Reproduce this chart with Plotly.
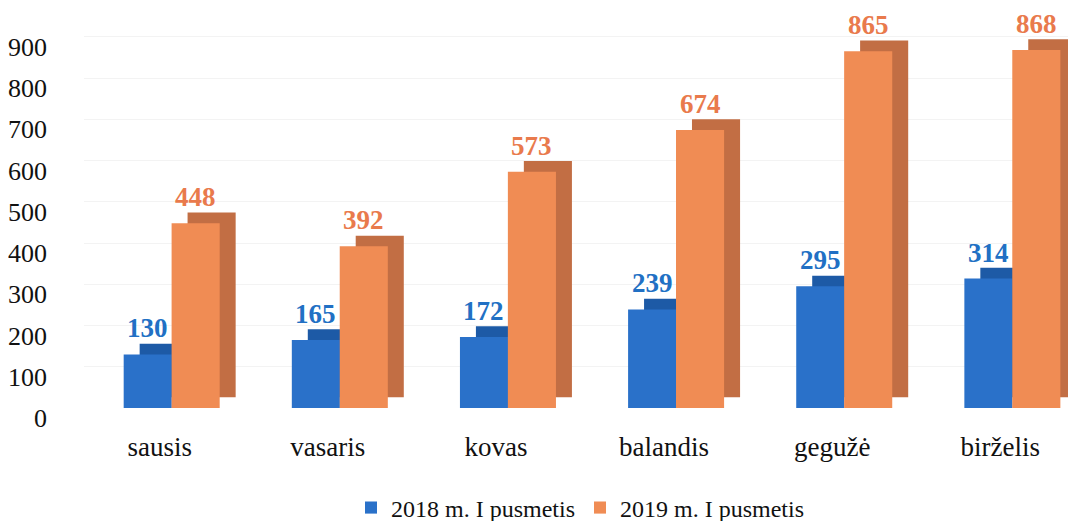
import plotly.graph_objects as go

months = ["sausis", "vasaris", "kovas", "balandis", "gegužė", "birželis"]
h1_2018 = [130, 165, 172, 239, 295, 314]
h1_2019 = [448, 392, 573, 674, 865, 868]
series_names = ["2018 m. I pusmetis", "2019 m. I pusmetis"]
y_ticks = [0, 100, 200, 300, 400, 500, 600, 700, 800, 900]

BLUE = "#2a71c9"
BLUE_DARK = "#1d5aa6"
ORANGE = "#f08c54"
ORANGE_DARK = "#c26e44"
BLUE_TXT = "#2170c4"
ORANGE_TXT = "#e97a4c"
SERIF = "Liberation Serif, Times New Roman, serif"

# fake 3D depth: a darker box drawn behind each front face, shifted up/right
DEPTH_Y = 26
DEPTH_X = 0.095
BAR_W = 0.286
OFF_BLUE = -0.214
OFF_ORANGE = 0.071

fig = go.Figure()

for vals, col, off in [(h1_2018, BLUE_DARK, OFF_BLUE), (h1_2019, ORANGE_DARK, OFF_ORANGE)]:
    fig.add_trace(go.Bar(
        x=months, y=vals, base=DEPTH_Y, width=BAR_W, offset=off + DEPTH_X,
        marker=dict(color=col, line=dict(width=0)), showlegend=False, hoverinfo="skip",
    ))

for vals, col, off, name in [(h1_2018, BLUE, OFF_BLUE, series_names[0]),
                             (h1_2019, ORANGE, OFF_ORANGE, series_names[1])]:
    fig.add_trace(go.Bar(
        x=months, y=vals, width=BAR_W, offset=off, name=name,
        marker=dict(color=col, line=dict(width=0)),
    ))

for vals, col, shift in [(h1_2018, BLUE_TXT, -12), (h1_2019, ORANGE_TXT, 36)]:
    for m, v in zip(months, vals):
        fig.add_annotation(
            x=m, y=v, text=str(v), showarrow=False, yanchor="bottom",
            xshift=shift, yshift=9,
            font=dict(family=SERIF, size=27, color=col, weight="bold"),
        )

# page body keeps its default 8px margin, so the figure is 8px smaller
fig.update_layout(
    width=1068, height=513,
    margin=dict(l=76, r=0, t=0, b=113, autoexpand=False),
    barmode="overlay",
    plot_bgcolor="white", paper_bgcolor="white",
    font=dict(family=SERIF, color="#111111"),
    legend=dict(
        orientation="h", x=0.5, xanchor="center", y=-0.25, yanchor="middle",
        font=dict(family=SERIF, size=24, color="#111111"),
        itemwidth=30, tracegroupgap=0,
    ),
)
fig.update_xaxes(
    range=[-0.45, 5.45], showgrid=False, showline=False, zeroline=False,
    ticks="", tickfont=dict(family=SERIF, size=27, color="#111111"),
    ticklabelstandoff=20, automargin=False,
)
fig.update_yaxes(
    range=[0, 970], tickvals=y_ticks, showgrid=True, gridcolor="#f3f3f3",
    zeroline=False, showline=False, ticks="",
    tickfont=dict(family=SERIF, size=26, color="#111111"),
    ticklabelstandoff=36, ticklabelshift=10, automargin=False,
)

fig.write_html("out.html")
